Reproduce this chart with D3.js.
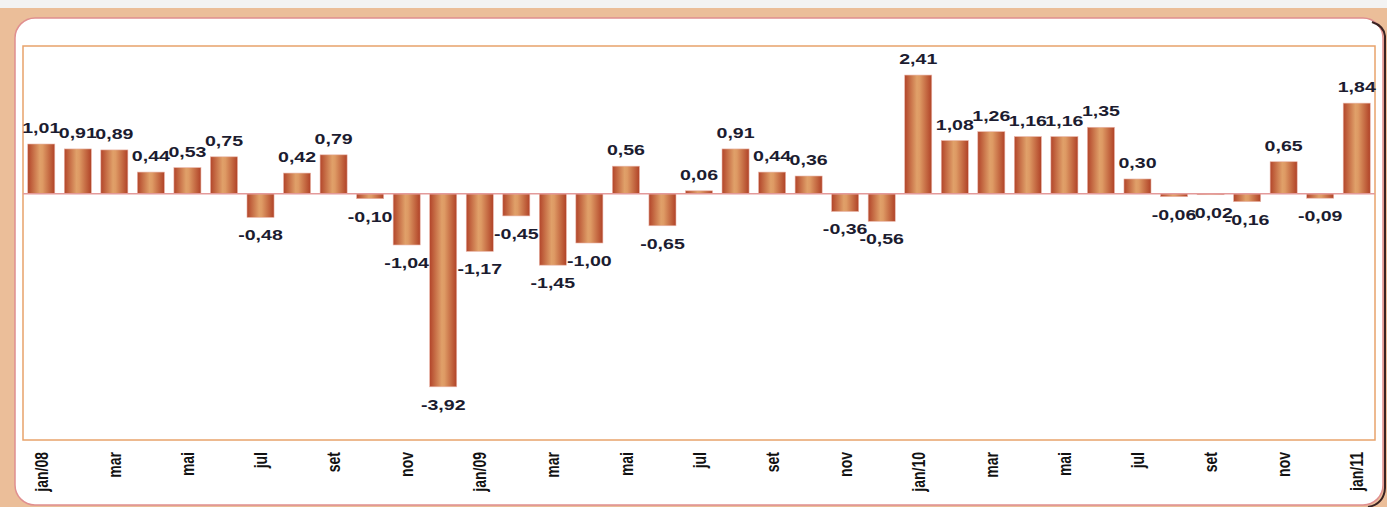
<!DOCTYPE html>
<html>
<head>
<meta charset="utf-8">
<script src="https://cdn.jsdelivr.net/npm/d3@7"></script>
<style>
  body { margin: 0; background: #f3f3f3; }
  text { font-family: "Liberation Sans", Arial, sans-serif; }
</style>
</head>
<body>
<script>
// monthly variation, jan/08 .. jan/11
const months = ["jan/08", "fev", "mar", "abr", "mai", "jun", "jul", "ago", "set", "out", "nov", "dez",
  "jan/09", "fev", "mar", "abr", "mai", "jun", "jul", "ago", "set", "out", "nov", "dez",
  "jan/10", "fev", "mar", "abr", "mai", "jun", "jul", "ago", "set", "out", "nov", "dez",
  "jan/11"];
const values = [1.01, 0.91, 0.89, 0.44, 0.53, 0.75, -0.48, 0.42, 0.79, -0.10, -1.04, -3.92,
  -1.17, -0.45, -1.45, -1.00, 0.56, -0.65, 0.06, 0.91, 0.44, 0.36, -0.36, -0.56,
  2.41, 1.08, 1.26, 1.16, 1.16, 1.35, 0.30, -0.06, -0.02, -0.16, 0.65, -0.09,
  1.84];
const yDomain = [-5, 3];

const w = 1387;
const h = 507;
const plot = { left: 23, right: 1375, top: 46, bottom: 440 };
const stretch = 1.35; // the original text is drawn wide

const svg = d3.select('body')
  .append('svg')
  .attr('width', w)
  .attr('height', h);

// frame
svg.append('rect').attr('x', 0).attr('y', 0).attr('width', w).attr('height', 8).attr('fill', '#f3f3f3');
svg.append('rect').attr('x', 0).attr('y', 8).attr('width', w).attr('height', h - 8).attr('fill', '#ebbe99');
svg.append('rect')
  .attr('x', 15).attr('y', 18)
  .attr('width', 1368).attr('height', 487)
  .attr('rx', 20).attr('ry', 20)
  .attr('fill', '#fff')
  .attr('stroke', '#e08f8f')
  .attr('stroke-width', 1.5);
// dark edge on the right side
svg.append('path')
  .attr('d', 'M1372,22 Q1384,26 1385,36 L1385,488 Q1384,504 1368,507')
  .attr('fill', 'none')
  .attr('stroke', '#3a2222')
  .attr('stroke-width', 2);

const defs = svg.append('defs');
const grad = defs.append('linearGradient').attr('id', 'barGrad')
  .attr('x1', '0%').attr('x2', '100%').attr('y1', '0%').attr('y2', '0%');
grad.append('stop').attr('offset', '0%').attr('stop-color', '#b2452a');
grad.append('stop').attr('offset', '45%').attr('stop-color', '#e0a069');
grad.append('stop').attr('offset', '55%').attr('stop-color', '#de9a64');
grad.append('stop').attr('offset', '100%').attr('stop-color', '#b04227');

const x = d3.scaleBand()
  .domain(d3.range(months.length))
  .range([plot.left, plot.right])
  .paddingInner(0.26)
  .paddingOuter(0.13);

const y = d3.scaleLinear()
  .domain(yDomain)
  .range([plot.bottom, plot.top]);

// plot area border
svg.append('rect')
  .attr('x', plot.left).attr('y', plot.top)
  .attr('width', plot.right - plot.left).attr('height', plot.bottom - plot.top)
  .attr('fill', 'none')
  .attr('stroke', '#e8a36b')
  .attr('stroke-width', 1.5);

// bars
svg.selectAll('.bar')
  .data(values)
  .enter()
  .append('rect')
  .attr('class', 'bar')
  .attr('x', (d, i) => x(i))
  .attr('width', x.bandwidth())
  .attr('y', d => y(Math.max(0, d)))
  .attr('height', d => Math.abs(y(d) - y(0)))
  .attr('fill', 'url(#barGrad)')
  .attr('stroke', '#e9b3a6')
  .attr('stroke-width', 0.6);

// zero line
svg.append('line')
  .attr('x1', plot.left).attr('x2', plot.right)
  .attr('y1', y(0)).attr('y2', y(0))
  .attr('stroke', '#e39a9a')
  .attr('stroke-width', 1.5);

// value labels
svg.selectAll('.val')
  .data(values)
  .enter()
  .append('text')
  .attr('class', 'val')
  .attr('transform', (d, i) => {
    const cx = x(i) + x.bandwidth() / 2;
    const cy = d >= 0 ? y(d) - 11 : y(d) + 23;
    return 'translate(' + cx + ',' + cy + ') scale(' + stretch + ',1)';
  })
  .attr('text-anchor', 'middle')
  .style('font-size', '14.5px')
  .style('font-weight', 'bold')
  .attr('fill', '#1c1c30')
  .text(d => d.toFixed(2).replace('.', ','));

// month axis, every other month
const xAxis = d3.axisBottom(x)
  .tickSize(0)
  .tickFormat(i => i % 2 === 0 ? months[i] : '');

const ax = svg.append('g')
  .attr('transform', 'translate(0,' + plot.bottom + ')')
  .call(xAxis);
ax.select('.domain').remove();
ax.selectAll('.tick text')
  .attr('y', 0)
  .attr('dy', 0)
  .attr('transform', function () {
    const t = d3.select(this.parentNode).attr('transform');
    return 'translate(0,12) scale(' + stretch + ',1) rotate(-90)';
  })
  .attr('x', 0)
  .attr('dy', '0.35em')
  .attr('text-anchor', 'end')
  .style('font-size', '14px')
  .style('font-weight', 'bold')
  .attr('fill', '#111');
</script>
</body>
</html>
